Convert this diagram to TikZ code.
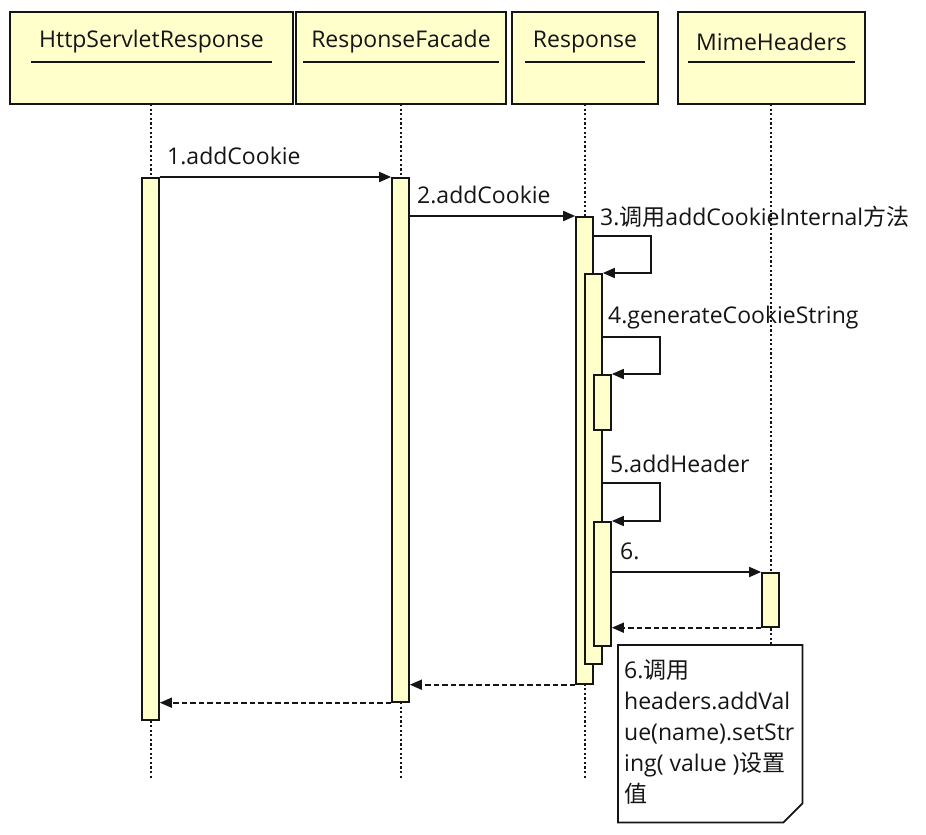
\documentclass[tikz,border=0pt]{standalone}
\usepackage{fontspec}
\setmainfont{Open Sans}
\newfontfamily\cjk{Noto Sans CJK SC}
\usetikzlibrary{arrows.meta}
\definecolor{boxfill}{HTML}{FFFFCC}
\definecolor{inkc}{HTML}{151515}
\definecolor{shadowc}{HTML}{9A9A9A}
\tikzset{
  headbox/.style={draw=inkc, line width=2pt, fill=boxfill, minimum height=92pt, anchor=north west, inner sep=0pt},
  headtitle/.style={inner xsep=8pt, inner ysep=0pt, font=\fontsize{23}{27}\selectfont, text=inkc},
  lifeline/.style={draw=inkc, line width=2pt, dash pattern=on 2.2pt off 2.4pt},
  actbar/.style={draw=inkc, line width=1.7pt, fill=boxfill, minimum width=17pt, anchor=north, inner sep=0pt},
  msg/.style={draw=inkc, line width=1.7pt, -{Triangle[length=12pt,width=10pt]}},
  retmsg/.style={msg, dash pattern=on 5.5pt off 3pt},
  lbl/.style={anchor=west, inner sep=0pt, font=\fontsize{23}{27}\selectfont, text=inkc},
}
\begin{document}
\begin{tikzpicture}[x=1pt,y=-1pt]
\useasboundingbox[fill=white] (0,0) rectangle (926,835);

% header boxes
\node[headbox, minimum width=283pt] (hsr) at (9,11) {};
\node[headbox, minimum width=210pt] (rf) at (295,11) {};
\node[headbox, minimum width=146pt] (resp) at (511,11) {};
\node[headbox, minimum width=187pt] (mime) at (677,11) {};

\node[headtitle] (hsrt) at (hsr.center |- 0,42) {HttpServletResponse};
\node[headtitle] (rft) at (rf.center |- 0,42) {ResponseFacade};
\node[headtitle] (respt) at (resp.center |- 0,42) {Response};
\node[headtitle] (mimet) at (mime.center |- 0,42) {MimeHeaders};
\foreach \t in {hsrt,rft,respt,mimet}{
  \draw[inkc, line width=1.6pt] (\t.west |- 0,62) -- (\t.east |- 0,62);
}

% lifelines
\draw[lifeline] (150.5,104) -- (150.5,778);
\draw[lifeline] (400.5,104) -- (400.5,778);
\draw[lifeline] (584.5,104) -- (584.5,778);
\draw[lifeline] (771,104) -- (771,778);

% activation bars
\node[actbar, minimum height=542pt] (hsrbar) at (150.5,177) {};
\node[actbar, minimum height=524pt] (rfbar) at (400.5,177) {};
\node[actbar, minimum height=467pt] (resp1) at (584.5,216) {};
\node[actbar, minimum height=390pt] (resp2) at (593.5,273) {};
\node[actbar, minimum height=55pt] (resp3) at (602.5,374) {};
\node[actbar, minimum height=124pt] (resp4) at (602.5,521) {};
\node[actbar, minimum height=54pt] (mhbar) at (770.5,572) {};

% messages
\draw[msg] (hsrbar.north east) -- (rfbar.north west);
\draw[msg] (rfbar.east |- resp1.north) -- (resp1.north west);
\draw[msg] (resp1.east |- 0,236) -- (651,236) |- (resp2.north east);
\draw[msg] (resp2.east |- 0,337) -- (660,337) |- (resp3.north east);
\draw[msg] (resp2.east |- 0,483) -- (660,483) |- (resp4.north east);
\draw[msg] (resp4.east |- mhbar.north) -- (mhbar.north west);
\draw[retmsg] (mhbar.south west) -- (resp4.east |- mhbar.south);
\draw[retmsg] (resp1.south west) -- (rfbar.east |- resp1.south);
\draw[retmsg] (rfbar.south west) -- (hsrbar.east |- rfbar.south);

% labels
\node[lbl] (l1) at (167,156) {1.addCookie};
\node[lbl] (l2) at (417,195) {2.addCookie};
\node[lbl] (l3) at (600,217) {3.{\cjk 调用}addCookieInternal{\cjk 方法}};
\node[lbl] (l4) at (608,318) {4.generateCookieString};
\node[lbl] (l5) at (610,464) {5.addHeader};
\node[lbl] (l6) at (620,551) {6.};

% note
\node[minimum width=184pt, minimum height=177pt, anchor=north west, inner sep=0pt] (note) at (618,645) {};
\fill[shadowc, shift={(3.5,3.5)}] (note.north west) -- (note.north east) -- ([yshift=19pt]note.south east) -- ([xshift=-19pt]note.south east) -- (note.south west) -- cycle;
\draw[inkc, fill=white, line width=1.8pt] (note.north west) -- (note.north east) -- ([yshift=19pt]note.south east) -- ([xshift=-19pt]note.south east) -- (note.south west) -- cycle;
\node[anchor=north west, align=left, inner sep=0pt, font=\fontsize{23}{31}\selectfont, text=inkc] (notetext) at (624,659) {6.{\cjk 调用}\\headers.addVal\\ue(name).setStr\\ing( value ){\cjk 设置}\\{\cjk 值}};
\end{tikzpicture}
\end{document}
